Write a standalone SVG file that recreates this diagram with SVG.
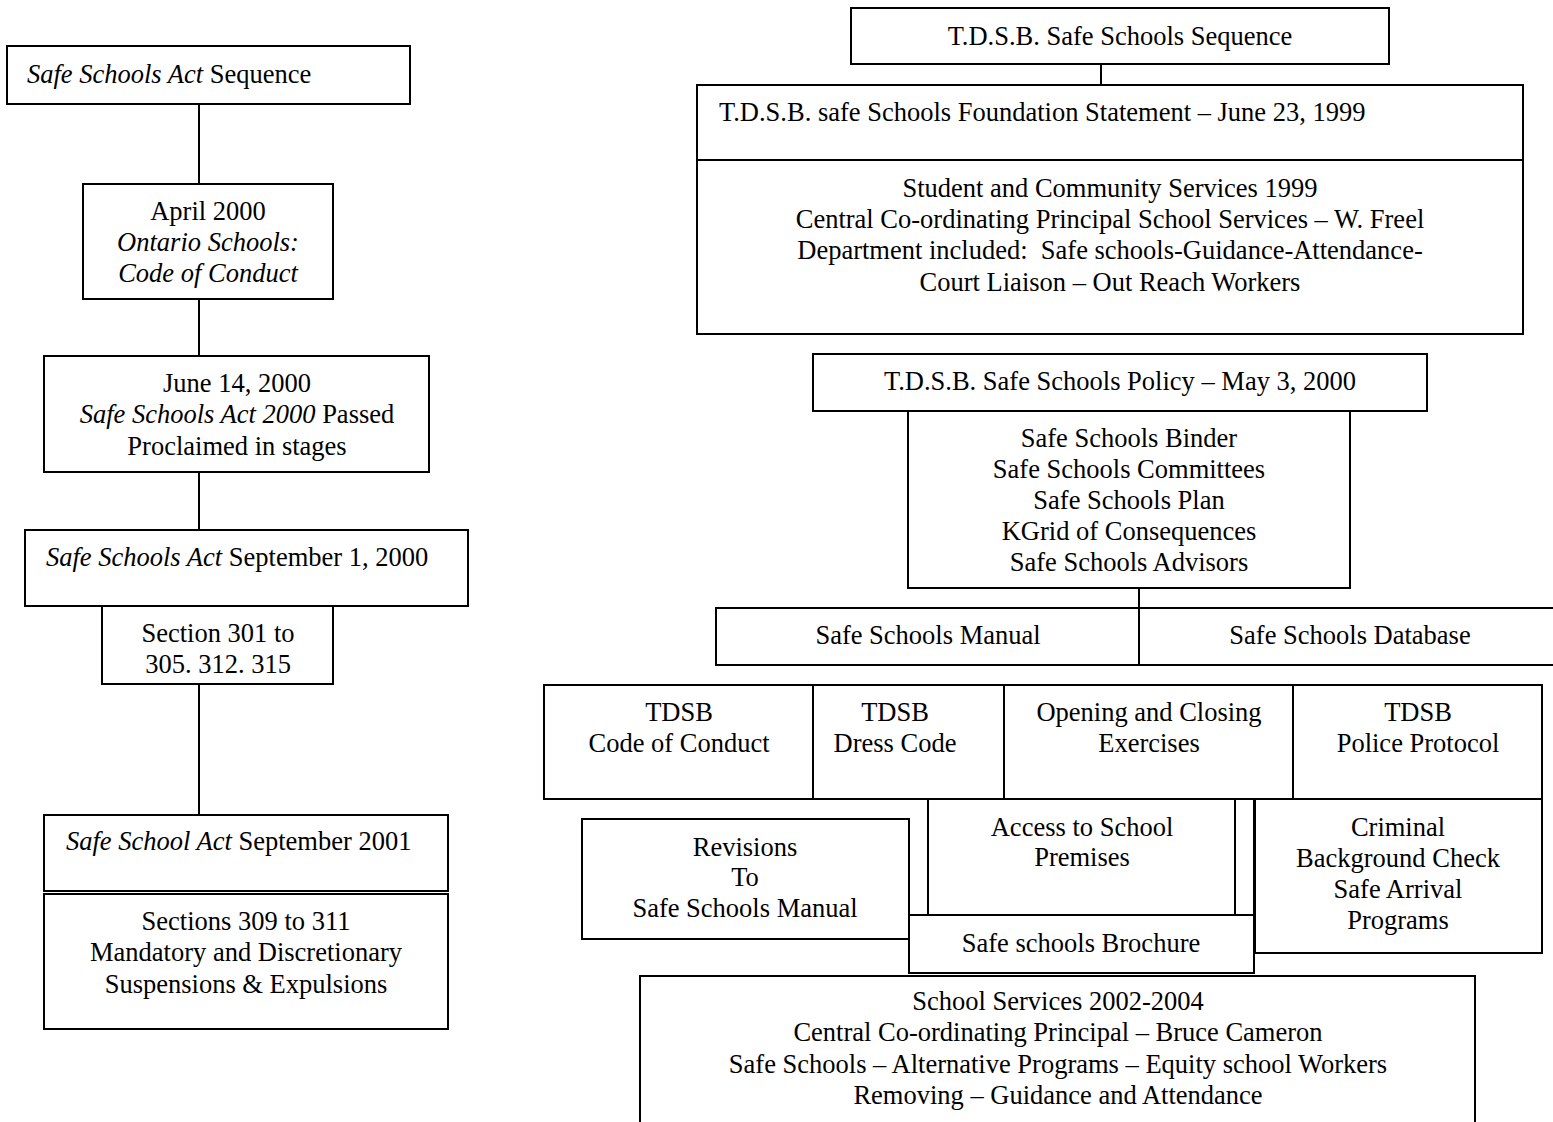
<svg xmlns="http://www.w3.org/2000/svg" width="1553" height="1122" viewBox="0 0 1553 1122">
<style>
rect{fill:#fff;stroke:#000;stroke-width:2}
line{stroke:#000;stroke-width:2}
text{font-family:"Liberation Serif","Times New Roman",serif;font-size:26.5px;fill:#000}
.c{text-anchor:middle}
.i{font-style:italic}
</style>
<rect x="0" y="0" width="1553" height="1122" style="stroke:none"/>
<g id="connectors">
<line x1="199" y1="104" x2="199" y2="184"/>
<line x1="199" y1="299" x2="199" y2="356"/>
<line x1="199" y1="472" x2="199" y2="530"/>
<line x1="199" y1="684" x2="199" y2="815"/>
<line x1="1101" y1="64" x2="1101" y2="85"/>
<line x1="1139" y1="588" x2="1139" y2="607"/>
</g>
<g id="n1"><rect x="7" y="46" width="403" height="58"/><text x="27" y="83"><tspan class="i">Safe Schools Act</tspan> Sequence</text></g>
<g id="n2"><rect x="83" y="184" width="250" height="115"/><text class="c" x="208" y="220">April 2000</text><text class="c i" x="208" y="251">Ontario Schools:</text><text class="c i" x="208" y="282">Code of Conduct</text></g>
<g id="n3"><rect x="44" y="356" width="385" height="116"/><text class="c" x="237" y="392">June 14, 2000</text><text class="c" x="237" y="423"><tspan class="i">Safe Schools Act 2000</tspan> Passed</text><text class="c" x="237" y="455">Proclaimed in stages</text></g>
<g id="n4"><rect x="25" y="530" width="443" height="76"/><text x="46" y="566"><tspan class="i">Safe Schools Act</tspan> September 1, 2000</text></g>
<g id="n5"><rect x="102" y="606" width="231" height="78"/><text class="c" x="218" y="642">Section 301 to</text><text class="c" x="218" y="673">305. 312. 315</text></g>
<g id="n6"><rect x="44" y="815" width="404" height="76"/><text x="66" y="850"><tspan class="i">Safe School Act</tspan> September 2001</text></g>
<g id="n7"><rect x="44" y="894" width="404" height="135"/><text class="c" x="246" y="930">Sections 309 to 311</text><text class="c" x="246" y="961">Mandatory and Discretionary</text><text class="c" x="246" y="993">Suspensions &amp; Expulsions</text></g>

<g id="nA"><rect x="851" y="8" width="538" height="56"/><text class="c" x="1120" y="45">T.D.S.B. Safe Schools Sequence</text></g>
<g id="nB"><rect x="697" y="85" width="826" height="75"/><text x="719" y="121">T.D.S.B. safe Schools Foundation Statement – June 23, 1999</text></g>
<g id="nC"><rect x="697" y="160" width="826" height="174"/><text class="c" x="1110" y="197">Student and Community Services 1999</text><text class="c" x="1110" y="228">Central Co-ordinating Principal School Services – W. Freel</text><text class="c" x="1110" y="259">Department included:&#160; Safe schools-Guidance-Attendance-</text><text class="c" x="1110" y="291">Court Liaison – Out Reach Workers</text></g>
<g id="nD"><rect x="813" y="354" width="614" height="57"/><text class="c" x="1120" y="390">T.D.S.B. Safe Schools Policy – May 3, 2000</text></g>
<g id="nE"><rect x="908" y="411" width="442" height="177"/><text class="c" x="1129" y="447">Safe Schools Binder</text><text class="c" x="1129" y="478">Safe Schools Committees</text><text class="c" x="1129" y="509">Safe Schools Plan</text><text class="c" x="1129" y="540">KGrid of Consequences</text><text class="c" x="1129" y="571">Safe Schools Advisors</text></g>
<g id="nF"><rect x="716" y="608" width="423" height="57"/><text class="c" x="928" y="644">Safe Schools Manual</text></g>
<g id="nG"><rect x="1139" y="608" width="420" height="57"/><text class="c" x="1350" y="644">Safe Schools Database</text></g>
<g id="nH1"><rect x="544" y="685" width="269" height="114"/><text class="c" x="679" y="721">TDSB</text><text class="c" x="679" y="752">Code of Conduct</text></g>
<g id="nH2"><rect x="813" y="685" width="191" height="114"/><text class="c" x="895" y="721">TDSB</text><text class="c" x="895" y="752">Dress Code</text></g>
<g id="nH3"><rect x="1004" y="685" width="289" height="114"/><text class="c" x="1149" y="721">Opening and Closing</text><text class="c" x="1149" y="752">Exercises</text></g>
<g id="nH4"><rect x="1293" y="685" width="249" height="114"/><text class="c" x="1418" y="721">TDSB</text><text class="c" x="1418" y="752">Police Protocol</text></g>
<g id="nRev"><rect x="582" y="819" width="327" height="120"/><text class="c" x="745" y="856">Revisions</text><text class="c" x="745" y="886">To</text><text class="c" x="745" y="917">Safe Schools Manual</text></g>
<g id="nAccess"><rect x="928" y="799" width="326" height="116"/><line x1="1235" y1="799" x2="1235" y2="915"/><text class="c" x="1082" y="836">Access to School</text><text class="c" x="1082" y="866">Premises</text></g>
<g id="nBrochure"><rect x="909" y="915" width="345" height="58"/><text class="c" x="1081" y="952">Safe schools Brochure</text></g>
<g id="nCriminal"><rect x="1255" y="799" width="287" height="154"/><text class="c" x="1398" y="836">Criminal</text><text class="c" x="1398" y="867">Background Check</text><text class="c" x="1398" y="898">Safe Arrival</text><text class="c" x="1398" y="929">Programs</text></g>
<g id="nBottom"><rect x="640" y="976" width="835" height="160"/><text class="c" x="1058" y="1010">School Services 2002-2004</text><text class="c" x="1058" y="1041">Central Co-ordinating Principal – Bruce Cameron</text><text class="c" x="1058" y="1073">Safe Schools – Alternative Programs – Equity school Workers</text><text class="c" x="1058" y="1104">Removing – Guidance and Attendance</text></g>
</svg>
